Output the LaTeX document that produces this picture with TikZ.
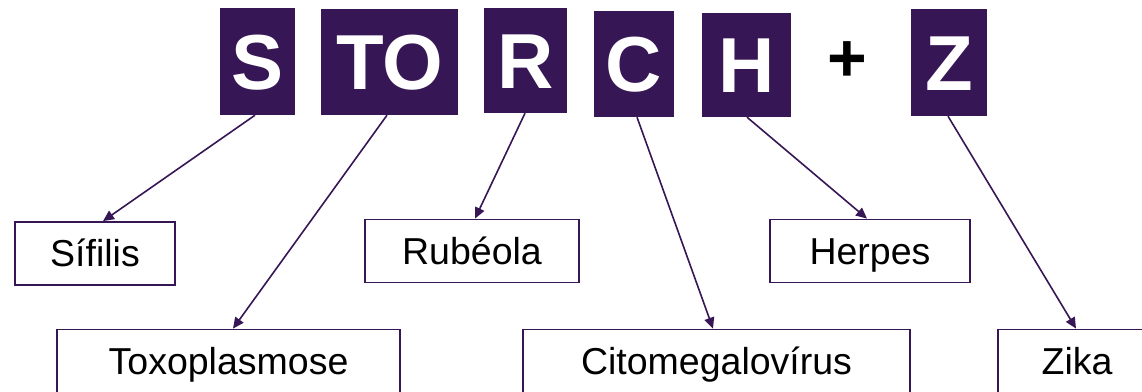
\documentclass[tikz,border=0pt]{standalone}
\usepackage{fontspec}
\setmainfont{Liberation Sans}
\usetikzlibrary{arrows.meta}
\definecolor{storch}{RGB}{54,22,84}
\tikzset{
  x=1pt, y=-1pt,
  letterbox/.style={fill=storch, draw=none, inner sep=0pt, text=white,
    text height=55.8pt, text depth=0pt,
    font=\fontsize{78}{78}\selectfont\bfseries},
  namebox/.style={draw=storch, line width=1.8pt, fill=white, inner sep=0pt,
    text height=26.9pt, text depth=0pt,
    minimum height=63pt, font=\fontsize{37.5}{37.5}\selectfont},
  link/.style={draw=storch, line width=1.6pt, -{Triangle[length=11pt,width=10pt]}}
}
\begin{document}
\begin{tikzpicture}
\useasboundingbox (0,0) rectangle (1142,391);
% letter boxes
\node[letterbox, minimum width=75pt, minimum height=107pt] (S)  at (257.5,61.5) {S};
\node[letterbox, minimum width=137pt, minimum height=106pt] (TO) at (389.5,62) {TO};
\node[letterbox, minimum width=83pt, minimum height=105pt] (R)  at (525.5,60.5) {R};
\node[letterbox, minimum width=80pt, minimum height=106pt] (C)  at (634,64) {C};
\node[letterbox, minimum width=89pt, minimum height=104pt] (H)  at (746.5,65) {H};
\node[inner sep=0pt, font=\fontsize{68}{68}\selectfont\bfseries] (plus) at (847,62) {+};
\node[letterbox, minimum width=76pt, minimum height=107pt] (Z)  at (949,62.5) {Z};
% name boxes
\node[namebox, minimum width=160pt] (sif) at (95,253.5) {Sífilis};
\node[namebox, minimum width=214pt] (rub) at (472,251) {Rubéola};
\node[namebox, minimum width=200pt] (her) at (870,251) {Herpes};
\node[namebox, minimum width=343pt] (tox) at (228.5,361) {Toxoplasmose};
\node[namebox, minimum width=387pt] (cit) at (716.5,361) {Citomegalovírus};
\node[namebox, minimum width=158pt] (zik) at (1077,361) {Zika};
% connectors
\draw[link] ([xshift=-2.5pt]S.south) -- ([xshift=8pt]sif.north);
\draw[link] ([xshift=-2.5pt]TO.south) -- ([xshift=4.5pt]tox.north);
\draw[link] ([xshift=-0.5pt]R.south) -- ([xshift=3pt]rub.north);
\draw[link] ([xshift=3pt]C.south) -- ([xshift=-3.5pt]cit.north);
\draw[link] ([xshift=0.5pt]H.south) -- ([xshift=-3pt]her.north);
\draw[link] ([xshift=-1pt]Z.south) -- ([xshift=-1pt]zik.north);
\end{tikzpicture}
\end{document}
